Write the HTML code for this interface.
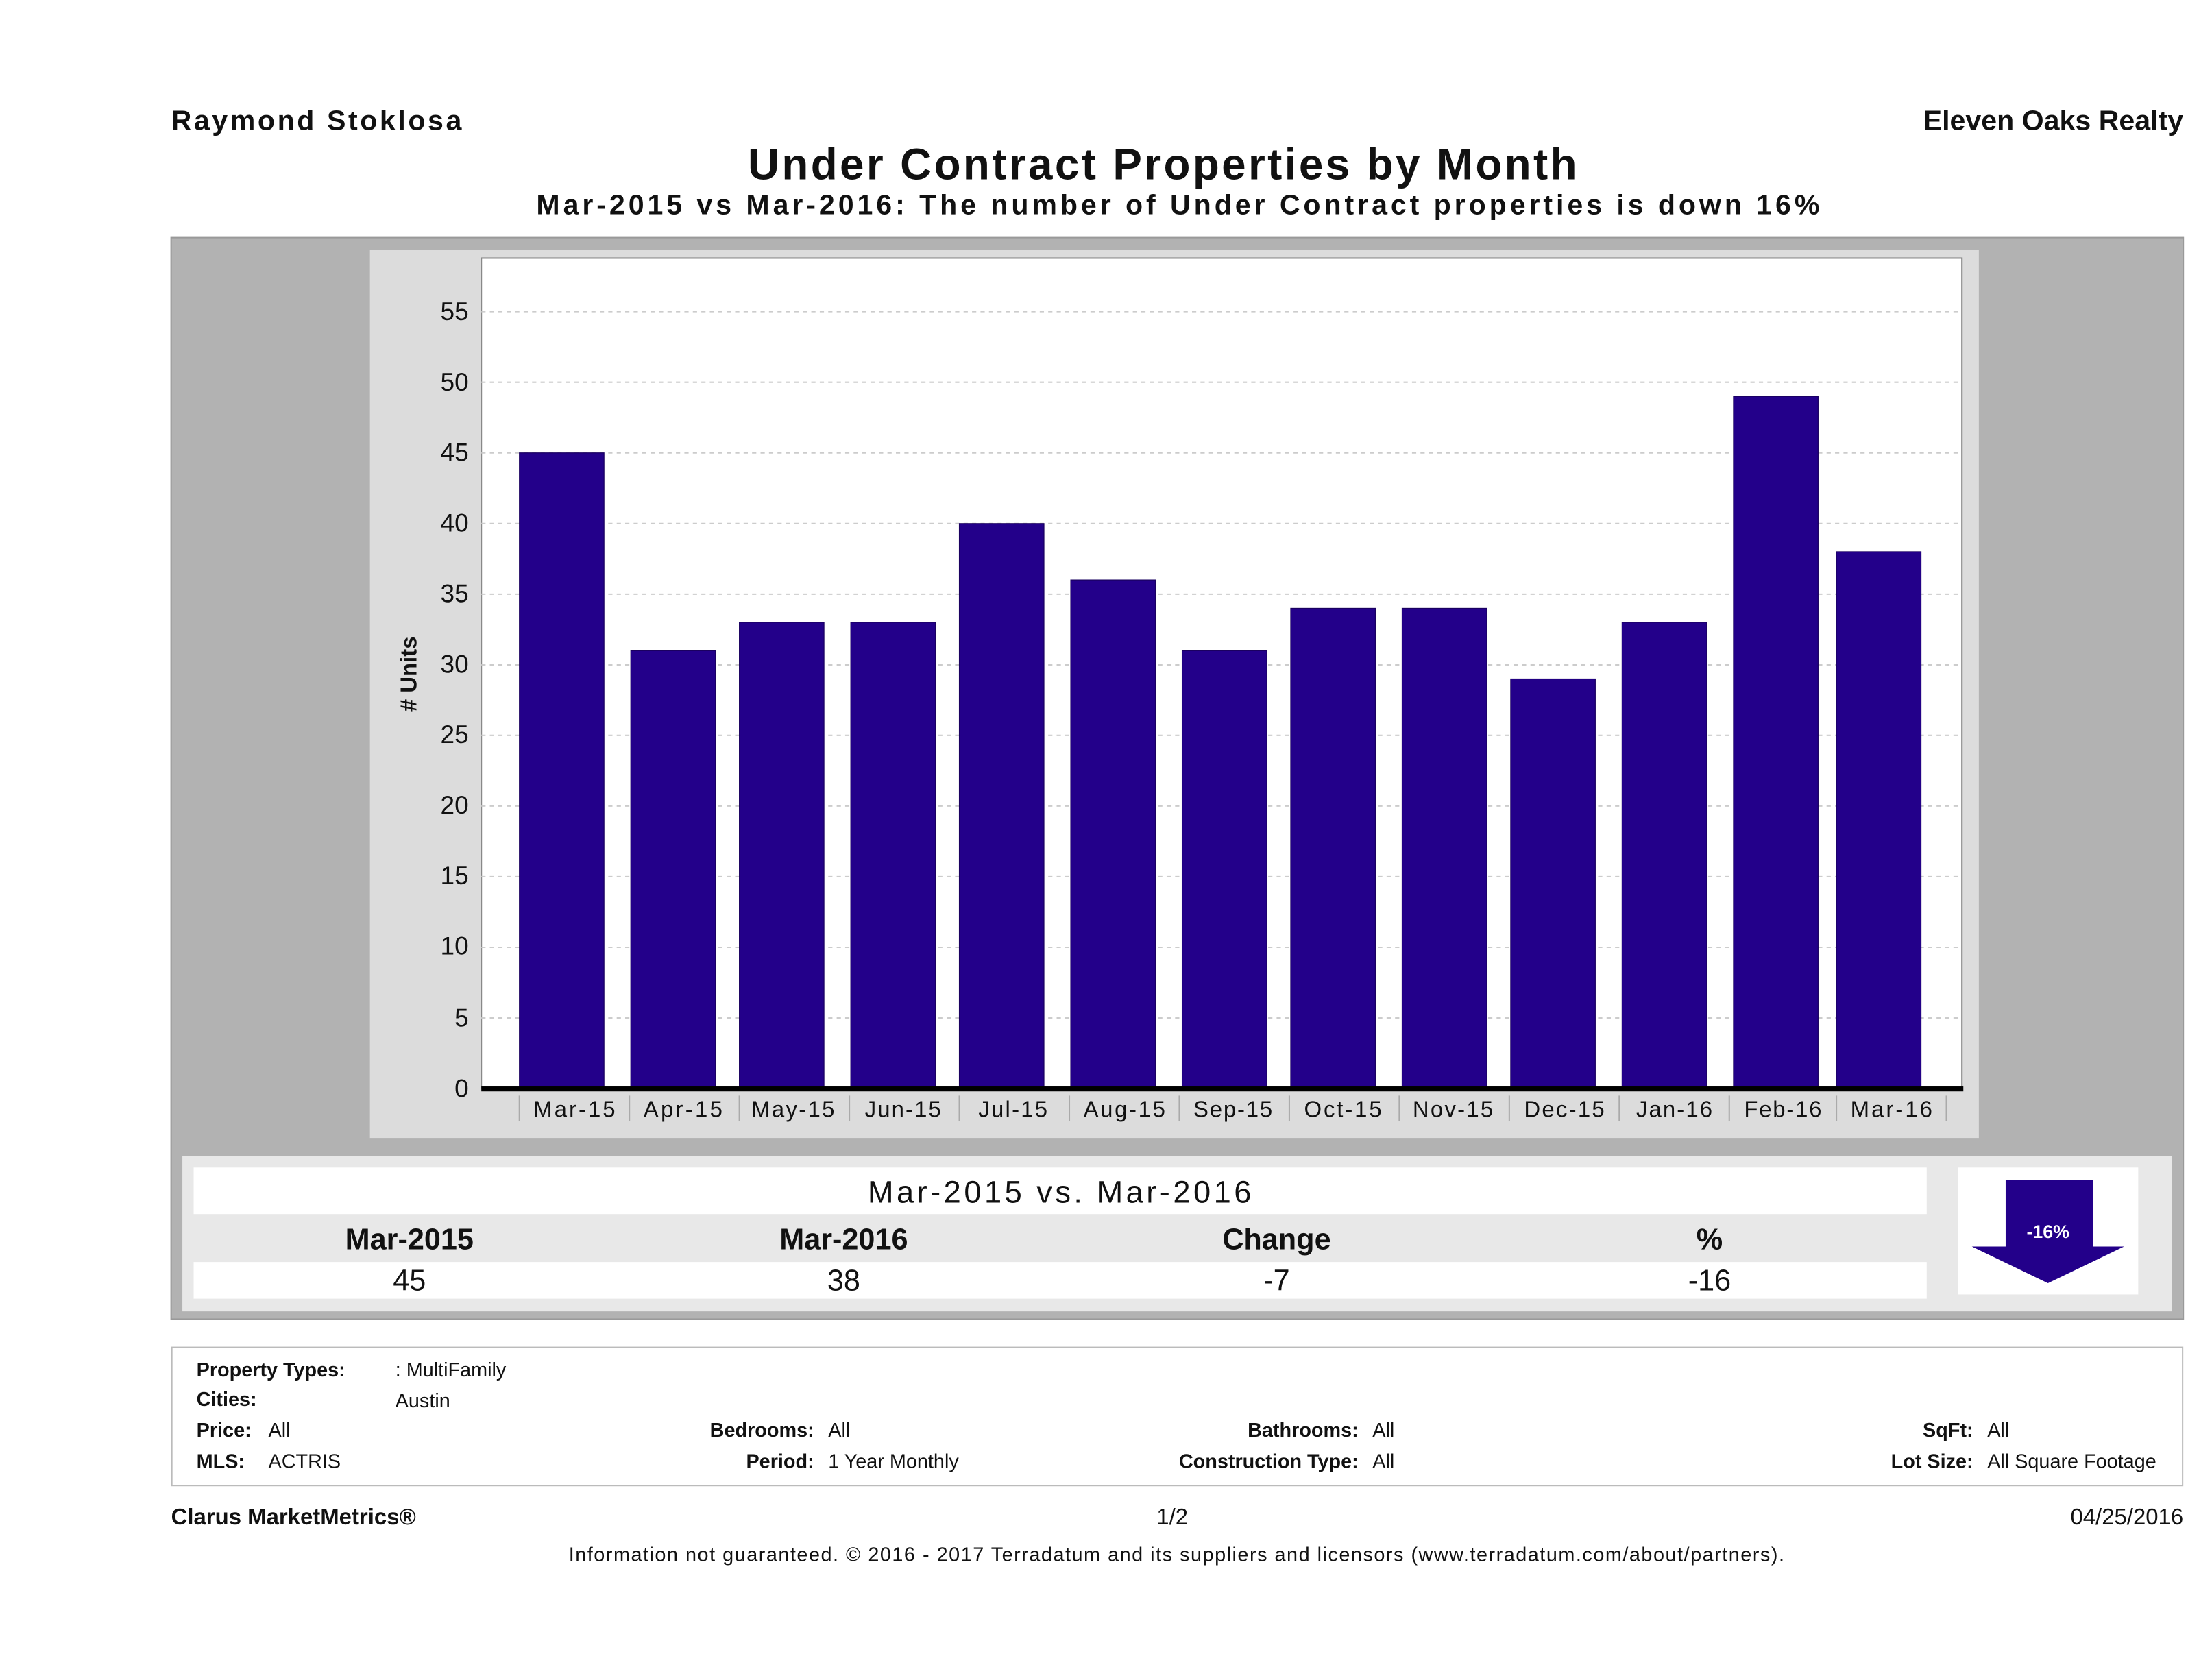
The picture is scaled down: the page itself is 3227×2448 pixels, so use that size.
<!DOCTYPE html>
<html><head><meta charset="utf-8"><style>
html,body{margin:0;padding:0;background:#fff;}
svg{display:block;}
text{font-family:"Liberation Sans",sans-serif;fill:#111;}
.b{font-weight:bold;}
</style></head><body>
<svg width="3227" height="2448" viewBox="0 0 1568 1190" xmlns="http://www.w3.org/2000/svg">
<rect width="1568" height="1190" fill="#fff"/>
<text x="121" y="92" font-size="20" class="b" textLength="206">Raymond Stoklosa</text>
<text x="1548" y="92" font-size="20" class="b" text-anchor="end">Eleven Oaks Realty</text>
<text x="824" y="127" font-size="31" class="b" text-anchor="middle" textLength="588">Under Contract Properties by Month</text>
<text x="835" y="152" font-size="20" class="b" text-anchor="middle" textLength="910">Mar-2015 vs Mar-2016: The number of Under Contract   properties is down 16%</text>

<rect x="121" y="168.5" width="1427" height="767" fill="#b2b2b2" stroke="#999" stroke-width="1"/>
<rect x="262" y="177" width="1141" height="630" fill="#dcdcdc"/>
<rect x="341" y="183" width="1050" height="589" fill="#fff" stroke="#888" stroke-width="1"/>
<g stroke="#ccc" stroke-width="1" stroke-dasharray="3,3">
<line x1="341" x2="1391" y1="221" y2="221"/><line x1="341" x2="1391" y1="271.1" y2="271.1"/>
<line x1="341" x2="1391" y1="321.2" y2="321.2"/><line x1="341" x2="1391" y1="371.3" y2="371.3"/>
<line x1="341" x2="1391" y1="421.4" y2="421.4"/><line x1="341" x2="1391" y1="471.5" y2="471.5"/>
<line x1="341" x2="1391" y1="521.5" y2="521.5"/><line x1="341" x2="1391" y1="571.6" y2="571.6"/>
<line x1="341" x2="1391" y1="621.7" y2="621.7"/><line x1="341" x2="1391" y1="671.8" y2="671.8"/>
<line x1="341" x2="1391" y1="721.9" y2="721.9"/>
</g>
<g font-size="18" text-anchor="end">
<text x="332" y="227">55</text><text x="332" y="277">50</text><text x="332" y="327">45</text>
<text x="332" y="377">40</text><text x="332" y="427">35</text><text x="332" y="477">30</text>
<text x="332" y="527">25</text><text x="332" y="577">20</text><text x="332" y="627">15</text>
<text x="332" y="677">10</text><text x="332" y="728">5</text><text x="332" y="778">0</text>
</g>
<text transform="translate(295,478) rotate(-90)" font-size="16" class="b" text-anchor="middle"># Units</text>
<g fill="#23008a" stroke="#1a0060" stroke-width="0.6">
<rect x="368" y="321.2" width="60" height="450.8"/>
<rect x="447" y="461.5" width="60" height="310.5"/>
<rect x="524" y="441.4" width="60" height="330.6"/>
<rect x="603" y="441.4" width="60" height="330.6"/>
<rect x="680" y="371.3" width="60" height="400.7"/>
<rect x="759" y="411.3" width="60" height="360.7"/>
<rect x="838" y="461.5" width="60" height="310.5"/>
<rect x="915" y="431.4" width="60" height="340.6"/>
<rect x="994" y="431.4" width="60" height="340.6"/>
<rect x="1071" y="481.5" width="60" height="290.5"/>
<rect x="1150" y="441.4" width="60" height="330.6"/>
<rect x="1229" y="281.1" width="60" height="490.9"/>
<rect x="1302" y="391.3" width="60" height="380.7"/>
</g>
<rect x="341" y="770.5" width="1051" height="3.5" fill="#000"/>
<g stroke="#aaa" stroke-width="1">
<line x1="368" x2="368" y1="777" y2="795"/><line x1="446" x2="446" y1="777" y2="795"/>
<line x1="524" x2="524" y1="777" y2="795"/><line x1="602" x2="602" y1="777" y2="795"/>
<line x1="680" x2="680" y1="777" y2="795"/><line x1="758" x2="758" y1="777" y2="795"/>
<line x1="836" x2="836" y1="777" y2="795"/><line x1="914" x2="914" y1="777" y2="795"/>
<line x1="992" x2="992" y1="777" y2="795"/><line x1="1070" x2="1070" y1="777" y2="795"/>
<line x1="1148" x2="1148" y1="777" y2="795"/><line x1="1226" x2="1226" y1="777" y2="795"/>
<line x1="1302" x2="1302" y1="777" y2="795"/><line x1="1380" x2="1380" y1="777" y2="795"/>
</g>
<g font-size="16" text-anchor="middle">
<text x="407" y="792" textLength="58">Mar-15</text><text x="484" y="792" textLength="56">Apr-15</text>
<text x="562" y="792" textLength="59">May-15</text><text x="640" y="792" textLength="54">Jun-15</text>
<text x="718" y="792" textLength="49">Jul-15</text><text x="797" y="792" textLength="58">Aug-15</text>
<text x="874" y="792" textLength="56">Sep-15</text><text x="952" y="792" textLength="55">Oct-15</text>
<text x="1030" y="792" textLength="57">Nov-15</text><text x="1109" y="792" textLength="57">Dec-15</text>
<text x="1187" y="792" textLength="54">Jan-16</text><text x="1264" y="792" textLength="55">Feb-16</text>
<text x="1341" y="792" textLength="58">Mar-16</text>
</g>

<rect x="129" y="820" width="1411" height="110" fill="#e8e8e8"/>
<rect x="137" y="828" width="1229" height="33" fill="#fff"/>
<rect x="137" y="895" width="1229" height="26" fill="#fff"/>
<text x="751" y="853" font-size="22" text-anchor="middle" textLength="272">Mar-2015 vs. Mar-2016</text>
<g font-size="21" class="b" text-anchor="middle">
<text x="290" y="886">Mar-2015</text><text x="598" y="886">Mar-2016</text>
<text x="905" y="886">Change</text><text x="1212" y="886">%</text>
</g>
<g font-size="21" text-anchor="middle">
<text x="290" y="915">45</text><text x="598" y="915">38</text>
<text x="905" y="915">-7</text><text x="1212" y="915">-16</text>
</g>
<rect x="1388" y="828" width="128" height="90" fill="#fff"/>
<polygon points="1422,837 1484,837 1484,884 1506,884 1452,910 1398,884 1422,884" fill="#23008a"/>
<text x="1452" y="878" font-size="13" class="b" text-anchor="middle" style="fill:#fff">-16%</text>

<rect x="121.5" y="955.5" width="1426" height="98" fill="#fff" stroke="#bbb" stroke-width="1"/>
<g font-size="14">
<text x="139" y="976" class="b">Property Types:</text><text x="280" y="976">: MultiFamily</text>
<text x="139" y="997" class="b">Cities:</text><text x="280" y="998">Austin</text>
<text x="139" y="1019" class="b">Price:</text><text x="190" y="1019">All</text>
<text x="577" y="1019" class="b" text-anchor="end">Bedrooms:</text><text x="587" y="1019">All</text>
<text x="963" y="1019" class="b" text-anchor="end">Bathrooms:</text><text x="973" y="1019">All</text>
<text x="1399" y="1019" class="b" text-anchor="end">SqFt:</text><text x="1409" y="1019">All</text>
<text x="139" y="1041" class="b">MLS:</text><text x="190" y="1041">ACTRIS</text>
<text x="577" y="1041" class="b" text-anchor="end">Period:</text><text x="587" y="1041">1 Year Monthly</text>
<text x="963" y="1041" class="b" text-anchor="end">Construction Type:</text><text x="973" y="1041">All</text>
<text x="1399" y="1041" class="b" text-anchor="end">Lot Size:</text><text x="1409" y="1041">All Square Footage</text>
</g>
<text x="121" y="1081" font-size="16" class="b">Clarus MarketMetrics®</text>
<text x="831" y="1081" font-size="16" text-anchor="middle">1/2</text>
<text x="1548" y="1081" font-size="16" text-anchor="end">04/25/2016</text>
<text x="834" y="1107" font-size="14" text-anchor="middle" textLength="862">Information not guaranteed. © 2016 - 2017 Terradatum and its suppliers and licensors (www.terradatum.com/about/partners).</text>
</svg>
</body></html>
